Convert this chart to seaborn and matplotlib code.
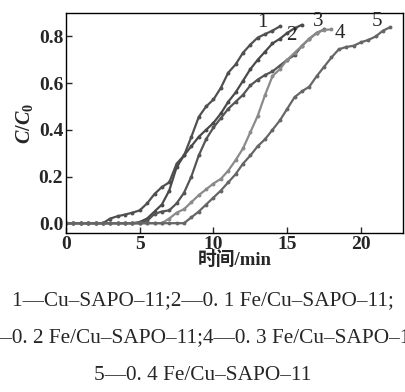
import numpy as np
import pandas as pd
import matplotlib
matplotlib.use("Agg")
import matplotlib.pyplot as plt
import seaborn as sns

# time grid (min), every 0.5 min
t = [0, 0.5, 1, 1.5, 2, 2.5, 3, 3.5, 4, 4.5, 5, 5.5, 6, 6.5, 7, 7.5, 8, 8.5,
     9, 9.5, 10, 10.5, 11, 11.5, 12, 12.5, 13, 13.5, 14, 14.5, 15, 15.5, 16,
     16.5, 17, 17.5, 18, 18.5, 19, 19.5, 20, 20.5, 21, 21.5, 22]

# C/C0 for each sample
c1 = [0, 0, 0, 0, 0, 0, 0.02, 0.03, 0.037, 0.045, 0.055, 0.085, 0.125, 0.155,
      0.175, 0.255, 0.29, 0.37, 0.455, 0.5, 0.53, 0.58, 0.645, 0.68, 0.73,
      0.765, 0.795, 0.81, 0.825, 0.843]
c2 = [0, 0, 0, 0, 0, 0, 0, 0, 0, 0, 0.005, 0.02, 0.05, 0.08, 0.14, 0.24,
      0.29, 0.33, 0.37, 0.40, 0.43, 0.47, 0.52, 0.56, 0.61, 0.66, 0.70, 0.735,
      0.77, 0.79, 0.815, 0.835, 0.85]
c3 = [0, 0, 0, 0, 0, 0, 0, 0, 0, 0, 0, 0.01, 0.04, 0.05, 0.055, 0.085, 0.13,
      0.2, 0.29, 0.36, 0.41, 0.45, 0.49, 0.52, 0.55, 0.59, 0.615, 0.635, 0.65,
      0.675, 0.70, 0.72, 0.76, 0.79, 0.815, 0.83]
c4 = [0, 0, 0, 0, 0, 0, 0, 0, 0, 0, 0, 0, 0, 0, 0.02, 0.045, 0.06, 0.09,
      0.12, 0.145, 0.17, 0.19, 0.225, 0.27, 0.32, 0.39, 0.46, 0.55, 0.63,
      0.66, 0.70, 0.73, 0.76, 0.79, 0.815, 0.828, 0.83]
c5 = [0, 0, 0, 0, 0, 0, 0, 0, 0, 0, 0, 0, 0, 0, 0, 0, 0, 0.025, 0.05, 0.08,
      0.11, 0.14, 0.175, 0.21, 0.255, 0.29, 0.33, 0.36, 0.40, 0.44, 0.49,
      0.54, 0.565, 0.585, 0.63, 0.67, 0.71, 0.745, 0.755, 0.76, 0.775, 0.785,
      0.80, 0.825, 0.84]

curve_ids = ["1", "2", "3", "4", "5"]
label_x = [13.3, 15.3, 17.1, 18.6, 21.1]
label_y = [0.86, 0.805, 0.865, 0.812, 0.865]

captions = ["1—Cu–SAPO–11;2—0. 1 Fe/Cu–SAPO–11;",
            "3—0. 2 Fe/Cu–SAPO–11;4—0. 3 Fe/Cu–SAPO–11;",
            "5—0. 4 Fe/Cu–SAPO–11"]

rows = []
for cid, vals in zip(curve_ids, [c1, c2, c3, c4, c5]):
    for x, y in zip(t, vals):
        rows.append({"time": x, "C": y, "curve": cid})
df = pd.DataFrame(rows)

sns.set_style("ticks")
plt.rcParams["font.family"] = ["Liberation Serif", "Noto Sans CJK SC"]
plt.rcParams["mathtext.fontset"] = "custom"
plt.rcParams["mathtext.it"] = "Liberation Serif:italic:bold"
plt.rcParams["mathtext.rm"] = "Liberation Serif:bold"

palette = {"1": "#505050", "2": "#4a4a4a", "3": "#555555", "4": "#8a8a8a", "5": "#666666"}

fig = plt.figure(figsize=(4.06, 3.92), dpi=100)
ax = fig.add_axes([0.1626, 0.4056, 0.830, 0.561])

sns.lineplot(data=df, x="time", y="C", hue="curve", palette=palette,
             marker="o", markersize=2.8, markeredgewidth=0, linewidth=1.6,
             legend=False, ax=ax, sort=False)

for cid, lx, ly in zip(curve_ids, label_x, label_y):
    ax.text(lx, ly, cid, fontsize=15, ha="center", va="center")

ax.set_xlim(0, 22.85)
ax.set_ylim(-0.042, 0.9)
ax.set_xticks([0, 5, 10, 15, 20])
ax.set_yticks([0.0, 0.2, 0.4, 0.6, 0.8])
ax.set_yticklabels(["0.0", "0.2", "0.4", "0.6", "0.8"])
ax.tick_params(direction="in", length=4, width=1, labelsize=14, pad=2)
for lab in ax.get_xticklabels() + ax.get_yticklabels():
    lab.set_fontweight("bold")
for sp in ax.spines.values():
    sp.set_linewidth(1)
    sp.set_color("black")

ax.set_xlabel("时间/min", fontsize=13.5, fontweight="bold", labelpad=-1)
ax.set_ylabel(r"$C/C_\mathrm{0}$", fontsize=14.5, labelpad=3)

ys = [0.234, 0.138, 0.043]
for txt, yy in zip(captions, ys):
    fig.text(0.5, yy, txt, ha="center", va="center", fontsize=15.3)

fig.savefig("out.png", dpi=100)
